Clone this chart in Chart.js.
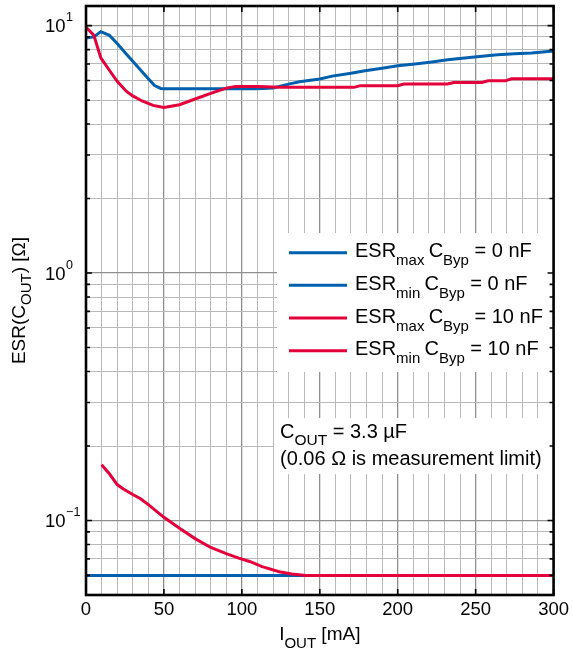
<!DOCTYPE html>
<html>
<head>
<meta charset="utf-8">
<script src="https://cdn.jsdelivr.net/npm/chart.js@4.4.1/dist/chart.umd.min.js"></script>
<style>
  html, body { margin: 0; padding: 0; background: #fff; }
  #wrap { width: 573px; height: 654px; }
</style>
</head>
<body>
<div id="wrap"><canvas id="esrChart" width="573" height="654"></canvas></div>
<script>
// ESR(COUT) vs IOUT, log y axis

// ESRmax, CByp = 0 nF
const maxByp0I   = [0, 5, 9.5, 15, 20, 25, 30, 35, 40, 44, 48, 50, 110, 120, 130, 137, 150, 158, 170, 179, 190, 200, 211, 222, 232, 243, 254, 264, 275, 286, 300];
const maxByp0ESR = [8.9, 9.0, 9.45, 9.14, 8.46, 7.79, 7.18, 6.62, 6.1, 5.72, 5.57, 5.55, 5.55, 5.6, 5.8, 5.93, 6.08, 6.25, 6.42, 6.57, 6.72, 6.88, 7.0, 7.13, 7.27, 7.4, 7.52, 7.63, 7.7, 7.75, 7.9];

// ESRmin, CByp = 0 nF (measurement limit)
const minByp0I   = [0, 300];
const minByp0ESR = [0.06, 0.06];

// ESRmax, CByp = 10 nF
const maxByp10I   = [0, 5, 9.5, 15, 20, 26, 30, 36, 43, 50, 60, 70, 80, 90, 96, 110, 125, 172, 176, 200, 204, 232, 236, 254, 258, 269, 273, 300];
const maxByp10ESR = [9.85, 9.15, 7.4, 6.6, 5.95, 5.42, 5.2, 4.96, 4.76, 4.67, 4.79, 5.05, 5.32, 5.59, 5.68, 5.68, 5.63, 5.63, 5.72, 5.72, 5.81, 5.81, 5.89, 5.89, 5.98, 5.98, 6.1, 6.1];

// ESRmin, CByp = 10 nF
const minByp10I   = [10, 15, 20, 24, 30, 35, 40, 50, 60, 70, 80, 90, 98, 105, 113, 124, 132, 141, 300];
const minByp10ESR = [0.168, 0.1545, 0.1397, 0.134, 0.1273, 0.1224, 0.1159, 0.103, 0.093, 0.0845, 0.0778, 0.0735, 0.0705, 0.0683, 0.0651, 0.0621, 0.0608, 0.06, 0.06];

// axes
const xGridValues = [0, 10, 20, 30, 40, 50, 60, 70, 80, 90, 100, 110, 120, 130, 140, 150, 160, 170, 180, 190, 200, 210, 220, 230, 240, 250, 260, 270, 280, 290, 300];
const xTickLabels = [0, 50, 100, 150, 200, 250, 300];
const yGridValues = [0.06, 0.07, 0.08, 0.09, 0.1, 0.2, 0.3, 0.4, 0.5, 0.6, 0.7, 0.8, 0.9, 1, 2, 3, 4, 5, 6, 7, 8, 9, 10];
const yDecades    = [0.1, 1, 10];
const yDecadeExps = ['\u22121', '0', '1'];

// legend texts: [text, kind]
const legendLabels = [
  [['ESR', ''], ['max ', 'sub'], ['C', ''], ['Byp', 'sub'], [' = 0 nF', '']],
  [['ESR', ''], ['min ', 'sub'], ['C', ''], ['Byp', 'sub'], [' = 0 nF', '']],
  [['ESR', ''], ['max ', 'sub'], ['C', ''], ['Byp', 'sub'], [' = 10 nF', '']],
  [['ESR', ''], ['min ', 'sub'], ['C', ''], ['Byp', 'sub'], [' = 10 nF', '']]
];
const noteLine1 = [['C', ''], ['OUT', 'sub'], [' = 3.3 \u00b5F', '']];
const noteLine2 = [['(0.06 \u03a9 is measurement limit)', '']];
const xTitle = [['I', ''], ['OUT', 'sub'], [' [mA]', '']];
const yTitle = [['ESR(C', ''], ['OUT', 'sub'], [') [\u03a9]', '']];

const FONT = '"Liberation Sans", Arial, Helvetica, sans-serif';
const BLUE = '#0060ad';
const RED = '#e4003a';
const GRID_MINOR = '#b9b9b9';
const GRID_MAJOR = '#8f8f8f';

function toPoints(xs, ys) {
  return xs.map((x, i) => ({ x: x, y: ys[i] }));
}

function richWidth(ctx, parts, size, subSize) {
  let w = 0;
  parts.forEach(([t, k]) => {
    ctx.font = (k ? subSize : size) + 'px ' + FONT;
    w += ctx.measureText(t).width;
  });
  return w;
}

function drawRich(ctx, parts, x, y, size, subSize, subDrop) {
  ctx.textAlign = 'left';
  ctx.textBaseline = 'alphabetic';
  parts.forEach(([t, k]) => {
    ctx.font = (k ? subSize : size) + 'px ' + FONT;
    ctx.fillText(t, x, k === 'sub' ? y + subDrop : y);
    x += ctx.measureText(t).width;
  });
}

const decorations = {
  id: 'decorations',
  beforeDatasetsDraw(chart) {
    const ctx = chart.ctx;
    const a = chart.chartArea;
    ctx.save();
    // white boxes for legend and note
    ctx.fillStyle = '#fff';
    ctx.fillRect(277, 233, a.right - 277, 139);
    ctx.fillRect(274, 418, a.right - 274, 56);

    // legend
    const colors = [BLUE, BLUE, RED, RED];
    const rowY = [252.7, 285.3, 318, 350.7];
    legendLabels.forEach((parts, i) => {
      ctx.strokeStyle = colors[i];
      ctx.lineWidth = 3;
      ctx.beginPath();
      ctx.moveTo(289, rowY[i]);
      ctx.lineTo(347, rowY[i]);
      ctx.stroke();
      ctx.fillStyle = '#000';
      drawRich(ctx, parts, 355, rowY[i] + 4.5, 20, 15, 8);
    });

    // note
    ctx.fillStyle = '#000';
    drawRich(ctx, noteLine1, 280, 438, 20, 15.5, 7);
    drawRich(ctx, noteLine2, 280, 465, 20, 15, 7);
    ctx.restore();
  },
  afterDatasetsDraw(chart) {
    const ctx = chart.ctx;
    const a = chart.chartArea;
    const xs = chart.scales.x;
    const ys = chart.scales.y;
    ctx.save();
    ctx.strokeStyle = '#000';
    ctx.lineWidth = 1.6;
    ctx.beginPath();
    xTickLabels.forEach(v => {
      const px = xs.getPixelForValue(v);
      ctx.moveTo(px, a.bottom); ctx.lineTo(px, a.bottom - 6);
      ctx.moveTo(px, a.top); ctx.lineTo(px, a.top + 6);
    });
    yGridValues.forEach(v => {
      const py = ys.getPixelForValue(v);
      const len = yDecades.includes(v) ? 6 : 4;
      ctx.moveTo(a.left, py); ctx.lineTo(a.left + len, py);
      ctx.moveTo(a.right, py); ctx.lineTo(a.right - len, py);
    });
    ctx.stroke();

    // frame
    ctx.lineWidth = 2.6;
    ctx.strokeRect(a.left, a.top, a.right - a.left, a.bottom - a.top);
    ctx.restore();
  },
  afterDraw(chart) {
    const ctx = chart.ctx;
    const a = chart.chartArea;
    const ys = chart.scales.y;
    ctx.save();
    ctx.fillStyle = '#000';

    // y decade labels 10^n
    yDecades.forEach((v, i) => {
      const py = ys.getPixelForValue(v);
      ctx.font = '18.5px ' + FONT;
      ctx.textAlign = 'left';
      ctx.textBaseline = 'alphabetic';
      ctx.fillText('10', 45, py + 6.5);
      const w = ctx.measureText('10').width;
      ctx.font = '12.5px ' + FONT;
      ctx.fillText(yDecadeExps[i], 45 + w + 0.5, py - 4.5);
    });

    // x title
    const cx = (a.left + a.right) / 2;
    const wx = richWidth(ctx, xTitle, 19, 15);
    drawRich(ctx, xTitle, cx - wx / 2, 640, 19, 15, 8);

    // y title
    const cy = (a.top + a.bottom) / 2;
    ctx.translate(25, cy);
    ctx.rotate(-Math.PI / 2);
    const wy = richWidth(ctx, yTitle, 19, 15);
    drawRich(ctx, yTitle, -wy / 2, 0, 19, 15, 6);
    ctx.restore();
  }
};

const ctx = document.getElementById('esrChart').getContext('2d');
const esrChart = new Chart(ctx, {
  type: 'line',
  data: {
    datasets: [
      { label: 'ESRmax CByp = 0 nF', data: toPoints(maxByp0I, maxByp0ESR), borderColor: BLUE, order: 2 },
      { label: 'ESRmin CByp = 0 nF', data: toPoints(minByp0I, minByp0ESR), borderColor: BLUE, order: 2 },
      { label: 'ESRmax CByp = 10 nF', data: toPoints(maxByp10I, maxByp10ESR), borderColor: RED, order: 1 },
      { label: 'ESRmin CByp = 10 nF', data: toPoints(minByp10I, minByp10ESR), borderColor: RED, order: 1 }
    ]
  },
  options: {
    responsive: false,
    animation: false,
    layout: { padding: { top: 6, right: 18, left: 0, bottom: 0 } },
    elements: {
      point: { radius: 0 },
      line: { borderWidth: 3, tension: 0, fill: false }
    },
    plugins: {
      legend: { display: false },
      tooltip: { enabled: false }
    },
    scales: {
      x: {
        type: 'linear',
        min: 0,
        max: 300,
        afterFit(scale) { scale.height = 59; },
        afterBuildTicks(scale) { scale.ticks = xGridValues.map(v => ({ value: v })); },
        ticks: {
          autoSkip: false,
          maxRotation: 0,
          padding: 4,
          color: '#000',
          font: { family: FONT, size: 18.5 },
          callback: v => (xTickLabels.includes(v) ? String(v) : '')
        },
        grid: {
          drawTicks: false,
          color: c => (c.tick && xTickLabels.includes(c.tick.value) ? GRID_MAJOR : GRID_MINOR),
          lineWidth: c => (c.tick && xTickLabels.includes(c.tick.value) ? 1.3 : 1)
        },
        border: { display: false }
      },
      y: {
        type: 'logarithmic',
        min: 0.05,
        max: 12,
        afterFit(scale) { scale.width = 86; },
        afterBuildTicks(scale) { scale.ticks = yGridValues.map(v => ({ value: v })); },
        ticks: { display: false },
        grid: {
          drawTicks: false,
          color: c => (c.tick && yDecades.includes(c.tick.value) ? GRID_MAJOR : GRID_MINOR),
          lineWidth: c => (c.tick && yDecades.includes(c.tick.value) ? 1.3 : 1)
        },
        border: { display: false }
      }
    }
  },
  plugins: [decorations]
});
</script>
</body>
</html>
